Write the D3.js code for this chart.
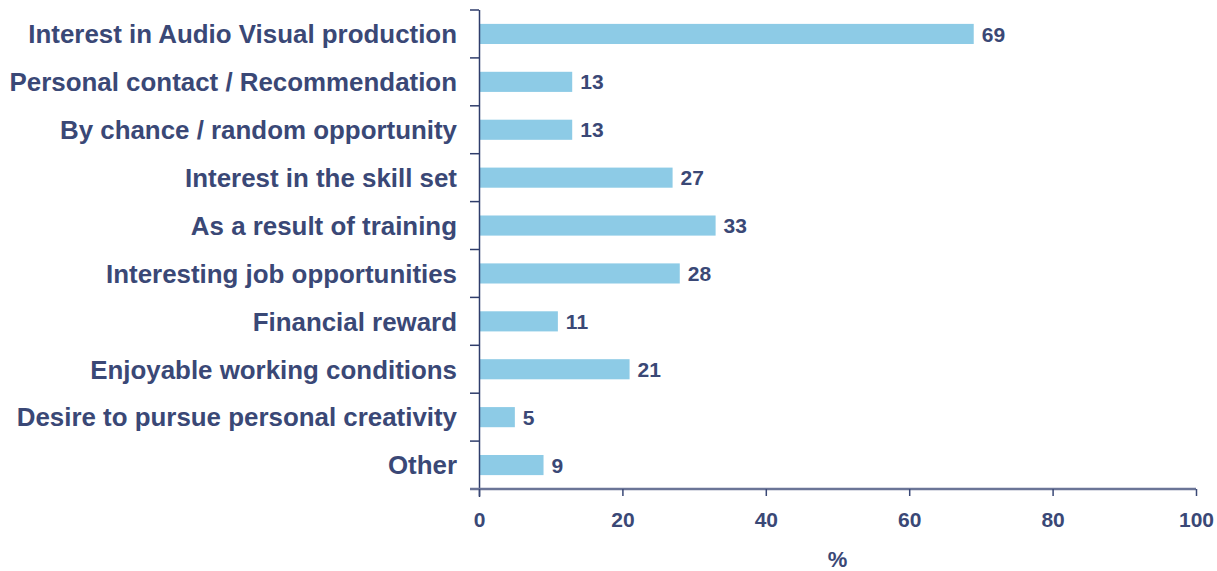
<!DOCTYPE html>
<html>
<head>
<meta charset="utf-8">
<script src="https://cdn.jsdelivr.net/npm/d3@7"></script>
<style>
	body { margin: 0; background: #fff; }
	svg text { font-family: "Liberation Sans", Arial, sans-serif; font-weight: bold; fill: #3a4876; }
</style>
</head>
<body>
<div id="chart"></div>
<script>
var categories = [
	"Interest in Audio Visual production",
	"Personal contact / Recommendation",
	"By chance / random opportunity",
	"Interest in the skill set",
	"As a result of training",
	"Interesting job opportunities",
	"Financial reward",
	"Enjoyable working conditions",
	"Desire to pursue personal creativity",
	"Other"
];

var values = [69, 13, 13, 27, 33, 28, 11, 21, 5, 9];

var xTicks = [0, 20, 40, 60, 80, 100];

var axisTitle = "%";

var width = 1217,
	height = 571;

var margin = { top: 10, right: 21, bottom: 82, left: 479 };

var chart_width = width - (margin.left + margin.right);
var chart_height = height - (margin.top + margin.bottom);

var svg = d3.select("#chart").append("svg")
	.attr("width", width)
	.attr("height", height);

var g = svg.append("g")
	.attr("transform", "translate(" + margin.left + "," + margin.top + ")");

var xScale = d3.scaleLinear().domain([0, 100]).range([0, chart_width]);
var yScale = d3.scaleBand().domain(categories).range([0, chart_height]).paddingInner(0.58).paddingOuter(0.29);

// bars
g.selectAll(".bar")
	.data(values)
	.enter()
	.append("rect")
	.attr("class", "bar")
	.attr("x", 0)
	.attr("y", function(d, i) { return yScale(categories[i]); })
	.attr("width", function(d) { return xScale(d); })
	.attr("height", yScale.bandwidth())
	.style("fill", "#8dcbe6");

// value labels
g.selectAll(".val")
	.data(values)
	.enter()
	.append("text")
	.attr("class", "val")
	.attr("x", function(d) { return xScale(d) + 8; })
	.attr("y", function(d, i) { return yScale(categories[i]) + yScale.bandwidth() / 2; })
	.attr("dy", "0.36em")
	.style("font-size", "21px")
	.text(function(d) { return d; });

// y axis: line plus ticks at band boundaries
var step = yScale.step();
var yBounds = d3.range(categories.length).map(function(i) { return i * step; });

g.append("line")
	.attr("x1", 0.5).attr("x2", 0.5)
	.attr("y1", 0).attr("y2", chart_height + 8)
	.style("stroke", "#2f3d6b")
	.style("stroke-width", 1.5);

g.selectAll(".ytick")
	.data(yBounds)
	.enter()
	.append("line")
	.attr("class", "ytick")
	.attr("x1", -9).attr("x2", 0)
	.attr("y1", function(d) { return d; })
	.attr("y2", function(d) { return d; })
	.style("stroke", "#2f3d6b")
	.style("stroke-width", 1.5);

g.selectAll(".cat")
	.data(categories)
	.enter()
	.append("text")
	.attr("class", "cat")
	.attr("x", -22)
	.attr("y", function(d) { return yScale(d) + yScale.bandwidth() / 2; })
	.attr("dy", "0.36em")
	.attr("text-anchor", "end")
	.style("font-size", "25.9px")
	.text(function(d) { return d; });

// x axis
var xAxis = d3.axisBottom(xScale)
	.tickValues(xTicks)
	.tickSize(7)
	.tickPadding(16)
	.tickSizeOuter(0);

var xg = g.append("g")
	.attr("class", "x axis")
	.attr("transform", "translate(0," + chart_height + ")")
	.call(xAxis);

xg.select(".domain").remove();
xg.insert("line", ":first-child")
	.attr("x1", -9).attr("x2", chart_width)
	.attr("y1", 0).attr("y2", 0)
	.style("stroke", "#6b7597")
	.style("stroke-width", 2.5);
xg.selectAll(".tick line").style("stroke", "#3a4876").style("stroke-width", 1.5);
xg.selectAll(".tick text").style("font-size", "21px").style("font-family", null).style("fill", "#3a4876");
xg.attr("font-family", null).attr("font-size", null);

g.append("text")
	.attr("x", xScale(50))
	.attr("y", chart_height + 78)
	.attr("text-anchor", "middle")
	.style("font-size", "22px")
	.text(axisTitle);
</script>
</body>
</html>
